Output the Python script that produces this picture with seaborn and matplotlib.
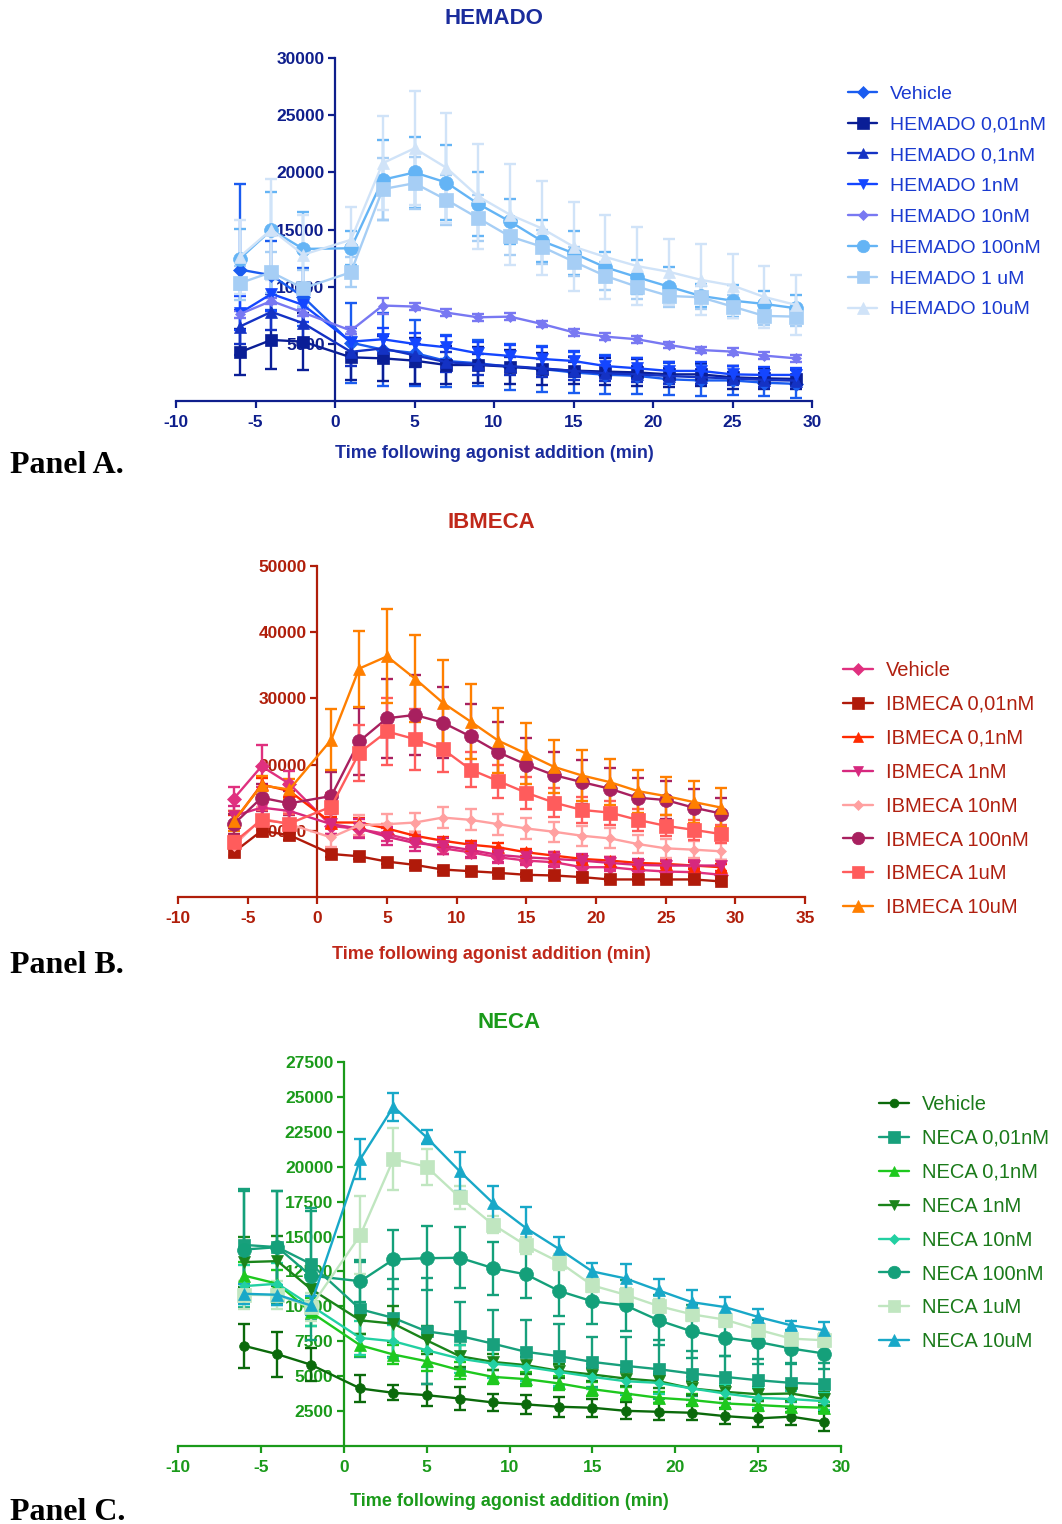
import matplotlib
matplotlib.use("Agg")
import matplotlib.pyplot as plt
import numpy as np
import pandas as pd
import seaborn as sns

# ---------------- data ----------------
time_min = [-6, -4, -2, 1, 3, 5, 7, 9, 11, 13, 15, 17, 19, 21, 23, 25, 27, 29]

hemado_labels = ["Vehicle", "HEMADO 0,01nM", "HEMADO 0,1nM", "HEMADO 1nM",
                 "HEMADO 10nM", "HEMADO 100nM", "HEMADO 1 uM", "HEMADO 10uM"]
hemado_vehicle = [11500, 11000, 9100, 5100, 4500, 4200, 3500, 3300, 3000, 2800, 2500, 2300, 2200, 1900, 1800, 1800, 1600, 1500]
hemado_vehicle_sem = [7500, 3000, 2500, 3500, 3200, 2900, 2300, 2000, 2000, 2000, 1800, 1700, 1600, 1400, 1400, 1300, 1200, 1200]
hemado_001 = [4260, 5340, 5190, 3820, 3730, 3530, 3150, 3150, 3000, 2800, 2660, 2570, 2500, 2330, 2330, 2070, 1980, 1930]
hemado_001_sem = [2000, 2500, 2500, 2000, 2000, 2000, 1700, 1600, 1500, 1400, 1200, 1200, 1200, 1100, 1000, 1000, 900, 900]
hemado_01 = [6500, 7800, 6800, 4300, 4600, 4000, 3400, 3200, 3050, 2860, 2630, 2420, 2330, 2190, 2070, 1980, 1840, 1780]
hemado_01_sem = [1500, 1600, 1400, 1200, 1100, 1000, 900, 900, 800, 800, 800, 700, 700, 700, 600, 600, 600, 500]
hemado_1n = [7670, 9370, 8400, 5190, 5400, 4990, 4700, 4170, 3940, 3680, 3500, 3060, 2860, 2630, 2630, 2330, 2280, 2280]
hemado_1n_sem = [1500, 1500, 1500, 1200, 1000, 1000, 1000, 1000, 1000, 1000, 900, 900, 900, 800, 800, 700, 700, 600]
hemado_10n = [7590, 8750, 7730, 6160, 8350, 8260, 7730, 7320, 7380, 6740, 6010, 5630, 5400, 4900, 4460, 4320, 3970, 3730]
hemado_10n_sem = [300, 300, 300, 300, 700, 300, 300, 300, 300, 300, 300, 300, 300, 300, 300, 300, 300, 300]
hemado_100n = [12430, 14970, 13300, 13360, 19350, 19990, 19110, 17250, 15700, 14000, 12930, 11700, 10830, 10000, 9190, 8780, 8490, 8110]
hemado_100n_sem = [2600, 3300, 3200, 1500, 3500, 3100, 3300, 2800, 2000, 1800, 1900, 1300, 1500, 1700, 1000, 1400, 1100, 1200]
hemado_1u = [10300, 11260, 9860, 11260, 18530, 19050, 17600, 16000, 14390, 13500, 12200, 10940, 10000, 9190, 9070, 8260, 7440, 7380]
hemado_1u_sem = [1500, 1800, 1600, 1300, 2700, 2300, 2200, 2000, 1600, 1500, 1300, 1200, 1100, 1000, 1000, 1000, 800, 800]
hemado_10u = [12600, 15000, 12800, 14100, 20800, 22100, 20400, 17900, 16300, 15100, 13500, 12600, 11800, 11300, 10600, 10100, 9100, 8400]
hemado_10u_sem = [3200, 4400, 3500, 2900, 4100, 5000, 4800, 4600, 4400, 4100, 3900, 3700, 3400, 2900, 3100, 2800, 2700, 2600]

ibmeca_labels = ["Vehicle", "IBMECA 0,01nM", "IBMECA 0,1nM", "IBMECA 1nM",
                 "IBMECA 10nM", "IBMECA 100nM", "IBMECA 1uM", "IBMECA 10uM"]
ibmeca_vehicle = [14850, 19750, 17100, 10750, 10250, 9500, 8500, 7350, 6750, 6000, 5500, 5250, 4500, 4500, 4100, 3850, 3750, 3350]
ibmeca_vehicle_sem = [1800, 3200, 2000, 1200, 1000, 1000, 900, 900, 800, 800, 700, 700, 700, 600, 600, 600, 600, 500]
ibmeca_001 = [6750, 10000, 9350, 6500, 6150, 5350, 4850, 4150, 3900, 3650, 3350, 3250, 3000, 2650, 2650, 2650, 2650, 2350]
ibmeca_001_sem = [600, 800, 800, 500, 400, 400, 400, 400, 300, 300, 300, 300, 300, 300, 300, 300, 300, 300]
ibmeca_01 = [11350, 17000, 16000, 11250, 11250, 10350, 9250, 8500, 7900, 7500, 6750, 6250, 5750, 5500, 5150, 5000, 4750, 4500]
ibmeca_01_sem = [1000, 1000, 1000, 800, 700, 700, 600, 600, 600, 600, 500, 500, 500, 500, 500, 500, 500, 500]
ibmeca_1n = [12250, 13500, 13000, 11000, 10350, 9100, 8150, 7750, 7100, 6350, 6000, 5750, 5500, 5150, 4850, 4750, 4750, 4750]
ibmeca_1n_sem = [1500, 1500, 1500, 1500, 1500, 1300, 1200, 1200, 1100, 1000, 1000, 1000, 1000, 900, 900, 900, 900, 900]
ibmeca_10n = [7750, 11850, 11000, 9000, 10850, 11000, 11250, 12000, 11650, 11000, 10350, 9850, 9250, 8850, 8000, 7350, 7150, 6900]
ibmeca_10n_sem = [1500, 1800, 1800, 1500, 1500, 1500, 1500, 1600, 1600, 1600, 1600, 1500, 1500, 1500, 1400, 1400, 1300, 1300]
ibmeca_100n = [11000, 15000, 14150, 15250, 23500, 27000, 27500, 26350, 24250, 21850, 20000, 18400, 17350, 16350, 15000, 14650, 13500, 12600]
ibmeca_100n_sem = [1500, 2000, 1800, 3700, 5000, 6000, 6100, 5400, 4900, 4600, 4000, 3500, 3300, 3200, 3000, 2900, 2800, 2400]
ibmeca_1u = [8250, 11650, 11100, 13650, 21750, 25000, 23850, 22350, 19250, 17500, 15750, 14250, 13150, 12750, 11650, 10750, 10150, 9500]
ibmeca_1u_sem = [1000, 1500, 1500, 2000, 4200, 5100, 4600, 3500, 2600, 2500, 2400, 2200, 2000, 1800, 1700, 1600, 1500, 1400]
ibmeca_10u = [11500, 16850, 16250, 23750, 34500, 36350, 33000, 29350, 26500, 23600, 21650, 19650, 18350, 17350, 16000, 15250, 14350, 13500]
ibmeca_10u_sem = [1500, 1500, 1500, 4600, 5750, 7100, 6600, 6500, 5700, 4900, 4600, 4000, 3900, 3500, 3250, 2900, 3100, 3000]

neca_labels = ["Vehicle", "NECA 0,01nM", "NECA 0,1nM", "NECA 1nM",
               "NECA 10nM", "NECA 100nM", "NECA 1uM", "NECA 10uM"]
neca_vehicle = [7170, 6570, 5830, 4120, 3810, 3640, 3400, 3120, 2980, 2810, 2740, 2520, 2450, 2380, 2140, 1980, 2100, 1740]
neca_vehicle_sem = [1600, 1600, 1200, 950, 550, 800, 800, 600, 660, 700, 660, 600, 600, 550, 600, 600, 600, 700]
neca_001 = [14400, 14240, 13050, 9790, 9170, 8210, 7880, 7330, 6740, 6430, 6020, 5740, 5500, 5190, 4950, 4710, 4520, 4430]
neca_001_sem = [4000, 4000, 4000, 3400, 2800, 3800, 2400, 2400, 2300, 2300, 1800, 2100, 2100, 1600, 1500, 1500, 1400, 1500]
neca_01 = [12200, 11620, 9600, 7210, 6550, 6070, 5430, 4950, 4790, 4480, 4070, 3760, 3450, 3290, 3050, 2930, 2810, 2740]
neca_01_sem = [1000, 1000, 1000, 800, 700, 700, 600, 500, 500, 500, 500, 500, 400, 400, 400, 400, 400, 400]
neca_1n = [13170, 13240, 11260, 9000, 8760, 7570, 6430, 6020, 5790, 5380, 5120, 4830, 4640, 4120, 3880, 3710, 3760, 3360]
neca_1n_sem = [1800, 1800, 1500, 1000, 1300, 1000, 800, 600, 600, 500, 500, 500, 500, 500, 500, 500, 500, 500]
neca_10n = [11450, 11620, 10070, 7740, 7500, 6860, 6260, 5900, 5670, 5310, 4950, 4640, 4520, 4120, 3760, 3450, 3360, 3210]
neca_10n_sem = [1500, 1500, 1500, 1200, 1200, 1200, 1000, 1000, 1000, 1000, 900, 900, 800, 800, 700, 700, 600, 600]
neca_100n = [14070, 14240, 12200, 11800, 13360, 13450, 13480, 12740, 12290, 11100, 10360, 10070, 9000, 8210, 7760, 7450, 6980, 6620]
neca_100n_sem = [4200, 4000, 4600, 1500, 2100, 2300, 2200, 1900, 1700, 1800, 1600, 1800, 1800, 1900, 1300, 1600, 1100, 1100]
neca_1u = [10830, 10800, 9950, 15100, 20550, 20000, 17800, 15860, 14360, 13170, 11500, 10830, 10020, 9430, 9050, 8330, 7690, 7570]
neca_1u_sem = [1000, 1000, 1000, 2800, 2200, 1300, 800, 600, 600, 600, 500, 500, 500, 500, 500, 500, 500, 500]
neca_10u = [10900, 10830, 10070, 20550, 24300, 22100, 19670, 17400, 15600, 14100, 12500, 12000, 11140, 10300, 9950, 9240, 8640, 8290]
neca_10u_sem = [700, 700, 700, 1400, 1000, 500, 1400, 1200, 1500, 900, 600, 1000, 800, 900, 750, 600, 300, 600]

x_ticks_a = [-10, -5, 0, 5, 10, 15, 20, 25, 30]
x_ticks_b = [-10, -5, 0, 5, 10, 15, 20, 25, 30, 35]
y_ticks_a = [5000, 10000, 15000, 20000, 25000, 30000]
y_ticks_b = [10000, 20000, 30000, 40000, 50000]
y_ticks_c = [2500, 5000, 7500, 10000, 12500, 15000, 17500, 20000, 22500, 25000, 27500]

# ---------------- style ----------------
sns.set_style("ticks")
plt.rcParams["font.family"] = ["Liberation Sans", "DejaVu Sans"]

W, H = 1062, 1524
fig = plt.figure(figsize=(W / 100, H / 100), dpi=100)


def axes_px(left, right, top, bottom):
    return fig.add_axes([left / W, 1 - bottom / H, (right - left) / W, (bottom - top) / H])


def draw_panel(ax, series, labels, colors, markers, msizes, axis_color, text_color,
               title, title_y, xlim, xticks, ylim, yticks, xlabel_y,
               leg_color, leg_xy, leg_fs, leg_spacing):
    for (vals, sem), lab, col, mk, ms in zip(series, labels, colors, markers, msizes):
        df = pd.DataFrame({"time": time_min, "value": vals})
        ax.errorbar(df["time"], df["value"], yerr=sem, fmt="none", ecolor=col,
                    elinewidth=1.7, capsize=4.5, capthick=1.7, zorder=2)
        sns.lineplot(data=df, x="time", y="value", ax=ax, color=col, marker=mk,
                     markersize=ms, markeredgecolor=col, markeredgewidth=0.5,
                     linewidth=1.7, label=lab, zorder=3)
    ax.set_xlim(*xlim)
    ax.set_ylim(*ylim)
    ax.spines["left"].set_position(("data", 0))
    ax.spines["top"].set_visible(False)
    ax.spines["right"].set_visible(False)
    for s in ("left", "bottom"):
        ax.spines[s].set_color(axis_color)
        ax.spines[s].set_linewidth(1.6)
    ax.set_xticks(xticks)
    ax.set_xticklabels([str(t) for t in xticks], fontweight="bold", fontsize=12.5)
    ax.set_yticks(yticks)
    ax.set_yticklabels([str(t) for t in yticks], fontweight="bold", fontsize=12.5)
    ax.tick_params(axis="both", colors=axis_color, width=1.6, length=5, pad=2.5)
    ax.tick_params(axis="x", pad=4.8)
    ax.set_ylabel("")
    ax.set_xlabel("Time following agonist addition (min)", fontsize=13,
                  fontweight="bold", color=text_color)
    ax.xaxis.set_label_coords(0.5, xlabel_y)
    ax.xaxis.label.set_va("center")
    ax.text(0.5, title_y, title, transform=ax.transAxes, ha="center", va="center",
            fontsize=16, fontweight="bold", color=text_color)
    handles, labs = ax.get_legend_handles_labels()
    ax.legend(handles, labs, loc="upper left", bbox_to_anchor=(leg_xy[0] / W, 1 - leg_xy[1] / H),
              bbox_transform=fig.transFigure, frameon=False, fontsize=leg_fs,
              labelcolor=leg_color, handlelength=1.5, handletextpad=0.65,
              labelspacing=leg_spacing, borderpad=0, borderaxespad=0, markerscale=0.9)


# Panel A
axA = axes_px(176, 812, 58, 401)
draw_panel(
    axA,
    [(hemado_vehicle, hemado_vehicle_sem), (hemado_001, hemado_001_sem), (hemado_01, hemado_01_sem),
     (hemado_1n, hemado_1n_sem), (hemado_10n, hemado_10n_sem), (hemado_100n, hemado_100n_sem),
     (hemado_1u, hemado_1u_sem), (hemado_10u, hemado_10u_sem)],
    hemado_labels,
    ["#1A5CF0", "#0A1E96", "#1432C4", "#1446FF", "#7878F2", "#64B4F5", "#A6CEF5", "#D0E3F8"],
    ["D", "s", "^", "v", "D", "o", "s", "^"],
    [7, 9, 8, 8, 5.5, 10, 9.5, 9],
    "#0E1E8C", "#1A2C9C",
    "HEMADO", 1 + 39 / 343, (-10, 30), x_ticks_a, (0, 30000), y_ticks_a, -53 / 343,
    "#1A3AD0", (848, 85), 14, 0.68,
)

# Panel B
axB = axes_px(178, 805, 566, 897)
draw_panel(
    axB,
    [(ibmeca_vehicle, ibmeca_vehicle_sem), (ibmeca_001, ibmeca_001_sem), (ibmeca_01, ibmeca_01_sem),
     (ibmeca_1n, ibmeca_1n_sem), (ibmeca_10n, ibmeca_10n_sem), (ibmeca_100n, ibmeca_100n_sem),
     (ibmeca_1u, ibmeca_1u_sem), (ibmeca_10u, ibmeca_10u_sem)],
    ibmeca_labels,
    ["#E0307F", "#B01A0A", "#FF2A00", "#D6287E", "#FFA0A0", "#A8205F", "#FF5C5C", "#FF7F00"],
    ["D", "s", "^", "v", "D", "o", "s", "^"],
    [7, 9, 8, 8, 5.5, 10, 9.5, 9],
    "#B01E0A", "#C0281A",
    "IBMECA", 1 + 43 / 331, (-10, 35), x_ticks_b, (0, 50000), y_ticks_b, -58 / 331,
    "#B02010", (843, 661), 14.5, 0.74,
)

# Panel C
axC = axes_px(178, 841, 1062, 1446)
draw_panel(
    axC,
    [(neca_vehicle, neca_vehicle_sem), (neca_001, neca_001_sem), (neca_01, neca_01_sem),
     (neca_1n, neca_1n_sem), (neca_10n, neca_10n_sem), (neca_100n, neca_100n_sem),
     (neca_1u, neca_1u_sem), (neca_10u, neca_10u_sem)],
    neca_labels,
    ["#0B6A0B", "#18A07C", "#1EC81E", "#1A841A", "#22D0A2", "#14A07A", "#C0E6C0", "#18A8C8"],
    ["o", "s", "^", "v", "D", "o", "s", "^"],
    [7, 9, 8, 8, 5.5, 10, 9.5, 9],
    "#1A9A1A", "#1A9A1A",
    "NECA", 1 + 40 / 384, (-10, 30), x_ticks_a, (0, 27500), y_ticks_c, -55 / 384,
    "#1A7A1A", (879, 1095), 14.5, 0.74,
)

for label, yb in (("Panel A.", 473), ("Panel B.", 973), ("Panel C.", 1520)):
    fig.text(10 / W, 1 - yb / H, label, fontsize=23, fontweight="bold",
             family=["Liberation Serif", "DejaVu Serif"], ha="left", va="baseline", color="black")

fig.savefig("out.png", dpi=100)
